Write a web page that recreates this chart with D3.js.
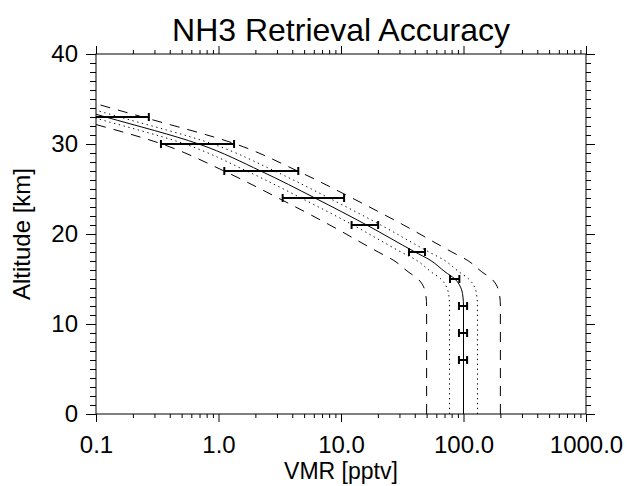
<!DOCTYPE html>
<html>
<head>
<meta charset="utf-8">
<script src="https://cdn.jsdelivr.net/npm/d3@7"></script>
<style>
    body { margin: 0; background: #fff; }
    svg text { font-family: 'Liberation Sans', Arial, Helvetica, sans-serif; fill: #000; }
</style>
</head>
<body>
<svg></svg>
<script>
// altitude grid shared by the profile and its accuracy envelopes (km)
let altitude = [0, 6, 9, 12, 13, 13.8, 15, 15.8, 17.1, 18, 21, 24, 27, 30, 33, 34, 35];

// retrieved NH3 profile (pptv)
let profile  = [100, 100, 100, 100, 99, 96.5, 85, 70.6, 53.4, 40.2, 16.2, 6.13, 2.21, 0.69, 0.12, 0.066, 0.037];

// dotted envelope (inner) and dashed envelope (outer)
let dotLow   = [76.9, 76.9, 76.9, 76.9, 76.2, 74.2, 65.4, 54.3, 41.1, 30.9, 12.5, 4.72, 1.70, 0.531, 0.092, 0.051, 0.028];
let dotHigh  = [130, 130, 130, 130, 128.7, 125.5, 110.5, 91.8, 69.4, 52.3, 21.1, 7.97, 2.87, 0.897, 0.156, 0.086, 0.048];
let dashLow  = [50, 50, 50, 50, 49.5, 48.3, 42.5, 35.3, 26.7, 20.1, 8.1, 3.07, 1.11, 0.345, 0.06, 0.033, 0.0185];
let dashHigh = [200, 200, 200, 200, 198, 193, 170, 141, 107, 80.4, 32.4, 12.3, 4.42, 1.38, 0.24, 0.132, 0.074];

// retrieval error bars
let barAlt = [33, 30, 27, 24, 21, 18, 15, 12, 9, 6];
let barLo  = [0.054, 0.339, 1.115, 3.34, 12.2, 35.9, 77.6, 91.8, 91.8, 91.8];
let barHi  = [0.27, 1.34, 4.48, 10.6, 20.1, 48.5, 92.5, 107, 107, 107];

// ticks
let xMajor = [0.1, 1, 10, 100, 1000];
let xMinor = [0.2, 0.3, 0.4, 0.5, 0.6, 0.7, 0.8, 0.9,
              2, 3, 4, 5, 6, 7, 8, 9,
              20, 30, 40, 50, 60, 70, 80, 90,
              200, 300, 400, 500, 600, 700, 800, 900];
let yMajor = [0, 10, 20, 30, 40];
let yMinor = d3.range(1, 40).filter(d => d % 10 !== 0);

let width = 627;
let height = 486;
let plotLeft = 96, plotRight = 586, plotTop = 54, plotBottom = 414;

let svg = d3.select('svg')
            .attr('width', width)
            .attr('height', height);

let xScale = d3.scaleLog()
               .domain([0.1, 1000])
               .range([plotLeft, plotRight]);

let yScale = d3.scaleLinear()
               .domain([0, 40])
               .range([plotBottom, plotTop]);

svg.append('clipPath')
   .attr('id', 'plot-clip')
   .append('rect')
   .attr('x', plotLeft)
   .attr('y', plotTop)
   .attr('width', plotRight - plotLeft)
   .attr('height', plotBottom - plotTop);

let drawCurves = () => {
    let g = svg.append('g').attr('clip-path', 'url(#plot-clip)');

    let curves = [
        { vals: dashLow,  dash: '10,8' },
        { vals: dashHigh, dash: '10,8' },
        { vals: dotLow,   dash: '1.3,3.6' },
        { vals: dotHigh,  dash: '1.3,3.6' },
        { vals: profile,  dash: null }
    ];

    let line = d3.line()
                 .x(d => xScale(d[1]))
                 .y(d => yScale(d[0]))
                 .curve(d3.curveMonotoneY);

    curves.forEach(c => {
        g.append('path')
         .datum(altitude.map((a, i) => [a, c.vals[i]]))
         .attr('d', line)
         .attr('fill', 'none')
         .attr('stroke', '#000')
         .attr('stroke-width', 1)
         .attr('stroke-dasharray', c.dash);
    });

    // error bars
    let bars = g.selectAll('.bar')
                .data(barAlt.map((a, i) => ({ alt: a, lo: barLo[i], hi: barHi[i] })))
                .enter()
                .append('g')
                .attr('class', 'bar')
                .attr('stroke', '#000')
                .attr('stroke-width', 2);

    bars.append('line')
        .attr('x1', d => xScale(d.lo))
        .attr('x2', d => xScale(d.hi))
        .attr('y1', d => yScale(d.alt))
        .attr('y2', d => yScale(d.alt));

    bars.append('line')
        .attr('x1', d => xScale(d.lo))
        .attr('x2', d => xScale(d.lo))
        .attr('y1', d => yScale(d.alt) - 4)
        .attr('y2', d => yScale(d.alt) + 4);

    bars.append('line')
        .attr('x1', d => xScale(d.hi))
        .attr('x2', d => xScale(d.hi))
        .attr('y1', d => yScale(d.alt) - 4)
        .attr('y2', d => yScale(d.alt) + 4);
};

let generateAxes = () => {
    let fmt = d3.format('.1f');

    let addAxis = (axis, transform) => {
        let g = svg.append('g')
                   .attr('transform', transform)
                   .call(axis);
        g.select('.domain').remove();
        g.selectAll('line').attr('stroke', '#000').attr('stroke-width', 1);
        return g;
    };

    // bottom
    addAxis(d3.axisBottom(xScale).tickValues(xMajor).tickFormat(fmt).tickSize(8).tickPadding(14),
            `translate(0, ${plotBottom})`)
        .selectAll('text')
        .style('font-size', '24px');
    addAxis(d3.axisBottom(xScale).tickValues(xMinor).tickFormat('').tickSize(4),
            `translate(0, ${plotBottom})`);

    // top
    addAxis(d3.axisTop(xScale).tickValues(xMajor).tickFormat('').tickSize(8),
            `translate(0, ${plotTop})`);
    addAxis(d3.axisTop(xScale).tickValues(xMinor).tickFormat('').tickSize(4),
            `translate(0, ${plotTop})`);

    // left
    addAxis(d3.axisLeft(yScale).tickValues(yMajor).tickFormat(d3.format('d')).tickSize(10).tickPadding(8),
            `translate(${plotLeft}, 0)`)
        .selectAll('text')
        .style('font-size', '24px');
    addAxis(d3.axisLeft(yScale).tickValues(yMinor).tickFormat('').tickSize(6),
            `translate(${plotLeft}, 0)`);

    // right
    addAxis(d3.axisRight(yScale).tickValues(yMajor).tickFormat('').tickSize(9),
            `translate(${plotRight}, 0)`);
    addAxis(d3.axisRight(yScale).tickValues(yMinor).tickFormat('').tickSize(5),
            `translate(${plotRight}, 0)`);

    // frame
    svg.append('rect')
       .attr('x', plotLeft)
       .attr('y', plotTop)
       .attr('width', plotRight - plotLeft)
       .attr('height', plotBottom - plotTop)
       .attr('fill', 'none')
       .attr('stroke', '#000')
       .attr('stroke-width', 1);
};

let drawLabels = () => {
    svg.append('text')
       .attr('x', (plotLeft + plotRight) / 2)
       .attr('y', 41)
       .attr('text-anchor', 'middle')
       .style('font-size', '32px')
       .text('NH3 Retrieval Accuracy');

    svg.append('text')
       .attr('x', (plotLeft + plotRight) / 2)
       .attr('y', 479)
       .attr('text-anchor', 'middle')
       .style('font-size', '23px')
       .text('VMR [pptv]');

    svg.append('text')
       .attr('transform', `translate(30, ${(plotTop + plotBottom) / 2}) rotate(-90)`)
       .attr('text-anchor', 'middle')
       .style('font-size', '24px')
       .text('Altitude [km]');
};

drawCurves();
generateAxes();
drawLabels();
</script>
</body>
</html>
